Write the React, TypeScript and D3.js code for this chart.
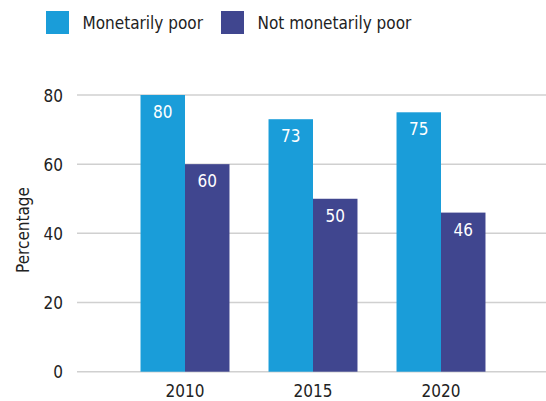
import React from "react";
import * as d3 from "d3";

const years = ["2010", "2015", "2020"];
const seriesNames = ["Monetarily poor", "Not monetarily poor"];
const monetarilyPoor = [80, 73, 75];
const notMonetarilyPoor = [60, 50, 46];
const yTicks = [0, 20, 40, 60, 80];
const colors = ["#1a9dd9", "#40468f"];

const W = 546;
const H = 401;
const FONT = "'DejaVu Sans Condensed', 'Roboto', sans-serif";
const FS = 17;

export default function App() {
  const y = d3.scaleLinear().domain([0, 80]).range([371.7, 95]);
  const x0 = d3.scaleBand<string>().domain(years).range([121, 505]).paddingInner(0.305).paddingOuter(0.1525);
  const x1 = d3.scaleBand<string>().domain(seriesNames).range([0, x0.bandwidth()]);
  const values = [monetarilyPoor, notMonetarilyPoor];

  return (
    <svg width={W} height={H} style={{ position: "absolute", left: 0, top: 0, background: "#fff" }} fontFamily={FONT}>
      {seriesNames.map((name, i) => {
        const lx = [46, 221][i];
        return (
          <g key={name}>
            <rect x={lx} y={11} width={23} height={23} fill={colors[i]} />
            <text x={lx + 36.5} y={29} fontSize={FS} fill="#222">{name}</text>
          </g>
        );
      })}
      {yTicks.map((t) => (
        <g key={t}>
          <line x1={77} x2={W} y1={y(t)} y2={y(t)} stroke="#d0d0d0" strokeWidth={1.5} />
          <text x={63} y={y(t) + 6.5} textAnchor="end" fontSize={FS} fill="#222">{t}</text>
        </g>
      ))}
      <text transform={`translate(29,${230}) rotate(-90)`} textAnchor="middle" fontSize={FS} fill="#222">Percentage</text>
      {years.map((yr, gi) => (
        <g key={yr} transform={`translate(${x0(yr)},0)`}>
          {seriesNames.map((s, si) => {
            const v = values[si][gi];
            const bx = x1(s)!;
            const bw = x1.bandwidth();
            return (
              <g key={s}>
                <rect x={bx} y={y(v)} width={bw} height={y(0) - y(v)} fill={colors[si]} />
                <text x={bx + bw / 2} y={y(v) + 23} textAnchor="middle" fontSize={FS} fill="#fff">{v}</text>
              </g>
            );
          })}
          <text x={x0.bandwidth() / 2} y={397} textAnchor="middle" fontSize={FS} fill="#222">{yr}</text>
        </g>
      ))}
    </svg>
  );
}
